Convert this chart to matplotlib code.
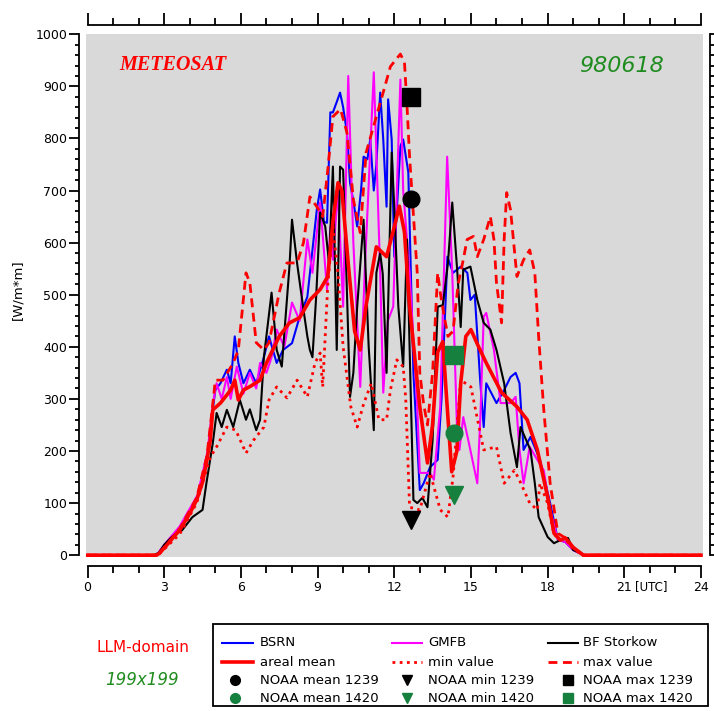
import matplotlib
matplotlib.use("Agg")
import matplotlib.pyplot as plt
from matplotlib.ticker import MultipleLocator
from matplotlib.patches import Rectangle

# ---------------------------------------------------------------- data
# global radiation [W/m*m], 18 June 1998, time in hours UTC
bsrn_t = [0, 2.7, 3.0, 3.6, 4.3, 4.7, 4.9, 5.0, 5.2, 5.45, 5.6, 5.76, 5.9, 6.1, 6.35,
          6.6, 6.9, 7.1, 7.4, 7.65, 8.0, 8.3, 8.6, 8.8, 8.97, 9.1, 9.25, 9.37, 9.5,
          9.6, 9.75, 9.88, 10.0, 10.15, 10.27, 10.4, 10.55, 10.7, 10.8, 10.95, 11.06,
          11.2, 11.3, 11.45, 11.57, 11.7, 11.76, 11.9, 12.0, 12.24, 12.35, 12.55,
          12.75, 13.0, 13.15, 13.4, 13.7, 13.85, 14.0, 14.08, 14.3, 14.6, 14.86,
          14.98, 15.15, 15.37, 15.5, 15.6, 16.0, 16.3, 16.55, 16.75, 16.9, 17.06,
          17.33, 17.7, 18.1, 18.4, 18.7, 19.0, 19.4, 24]
bsrn_v = [0, 0, 18, 50, 110, 190, 280, 317, 330, 356, 330, 420, 369, 330, 356,
          330, 380, 420, 369, 394, 407, 458, 496, 586, 663, 702, 640, 638, 850,
          850, 870, 888, 860, 811, 715, 680, 631, 700, 765, 760, 798,
          700, 750, 888, 798, 669, 875, 798, 573, 785, 798, 735,
          350, 125, 138, 169, 183, 300, 477, 573, 542, 554, 542,
          490, 500, 330, 246, 330, 292, 317, 342, 350, 330, 202,
          227, 183, 100, 30, 25, 10, 0, 0]

gmfb_t = [0, 2.7, 3.0, 3.6, 4.3, 4.7, 4.9, 5.05, 5.25, 5.45, 5.6, 5.84, 6.1, 6.35,
          6.6, 6.75, 7.0, 7.2, 7.4, 7.7, 8.0, 8.3, 8.6, 8.8, 9.1, 9.37, 9.5, 9.6,
          9.8, 10.0, 10.2, 10.4, 10.67, 10.85, 11.2, 11.45, 11.57, 11.75, 11.96,
          12.24, 12.35, 12.6, 12.9, 13.0, 13.4, 13.55, 13.8, 14.07, 14.27, 14.47,
          14.55, 14.7, 14.9, 15.25, 15.37, 15.5, 15.6, 15.9, 16.16, 16.55, 16.75,
          16.9, 17.06, 17.3, 17.6, 17.85, 18.1, 18.4, 18.7, 19.0, 19.4, 24]
gmfb_v = [0, 0, 20, 55, 115, 200, 290, 330, 300, 342, 300, 362, 310, 350,
          320, 369, 350, 380, 433, 400, 485, 450, 606, 542, 677, 510, 631, 567,
          700, 477, 920, 600, 323, 550, 927, 542, 312, 450, 477,
          913, 700, 542, 285, 158, 158, 145, 285, 765, 542, 221,
          202, 265, 220, 138, 265, 458, 465, 394, 292, 292, 304,
          202, 138, 208, 183, 163, 87, 30, 25, 10, 0, 0]

bfs_t = [0, 2.6, 2.8, 3.0, 3.3, 3.5, 3.7, 4.1, 4.5, 4.65, 4.9, 5.05, 5.25, 5.45, 5.7,
         5.96, 6.2, 6.35, 6.6, 6.75, 6.9, 7.2, 7.4, 7.6, 7.9, 8.0, 8.2, 8.45, 8.6,
         8.7, 8.8, 8.95, 9.1, 9.3, 9.45, 9.6, 9.75, 9.88, 10.0, 10.15, 10.27, 10.4,
         10.55, 10.8, 11.0, 11.2, 11.3, 11.45, 11.55, 11.7, 11.9, 12.0, 12.16,
         12.35, 12.5, 12.6, 12.75, 12.9, 13.1, 13.3, 13.5, 13.7, 13.9, 14.1,
         14.27, 14.47, 14.6, 14.7, 14.98, 15.25, 15.5, 15.76, 16.0, 16.3, 16.55,
         16.8, 16.94, 17.33, 17.5, 17.65, 18.0, 18.25, 18.5, 18.8, 19.0, 19.3,
         19.4, 24]
bfs_v = [0, 0, 5, 20, 35, 42, 48, 73, 87, 138, 215, 273, 246, 279, 246,
         298, 260, 280, 240, 260, 380, 504, 394, 362, 554, 644, 560, 471, 420,
         394, 380, 500, 658, 631, 560, 746, 394, 746, 740, 504, 304, 350,
         477, 644, 400, 240, 542, 580, 540, 350, 773, 669, 477,
         362, 606, 400, 106, 100, 110, 92, 221, 477, 480, 560,
         677, 542, 438, 548, 554, 490, 446, 433, 394, 330, 235,
         169, 246, 202, 138, 73, 35, 23, 29, 33, 10, 4,
         0, 0]

mean_t = [0, 2.7, 2.82, 3.2, 3.6, 4.0, 4.27, 4.5, 4.67, 4.8, 4.9, 5.2, 5.6, 5.76,
          5.9, 6.1, 6.4, 6.75, 7.0, 7.5, 7.9, 8.3, 8.7, 9.1, 9.4, 9.6, 9.8, 9.95,
          10.2, 10.45, 10.67, 10.9, 11.3, 11.7, 12.0, 12.2, 12.4, 12.6, 13.0,
          13.3, 13.5, 13.7, 13.9, 14.05, 14.25, 14.45, 14.6, 14.8, 15.0, 15.3,
          15.6, 16.2, 16.8, 17.2, 17.6, 18.0, 18.25, 18.5, 18.7, 19.0, 19.4, 24]
mean_v = [0, 0, 4, 25, 48, 80, 106, 140, 183, 220, 279, 292, 317, 336,
          298, 317, 325, 336, 369, 420, 446, 456, 490, 510, 535, 640, 715, 700,
          560, 430, 394, 480, 592, 573, 630, 670, 620, 477, 285,
          177, 250, 390, 410, 300, 160, 200, 330, 420, 433, 400,
          369, 312, 285, 260, 202, 112, 42, 29, 33, 15, 0, 0]

min_t = [0, 2.7, 2.82, 3.6, 4.27, 4.8, 5.05, 5.45, 5.8, 6.2, 6.5, 6.9, 7.1, 7.4,
         7.8, 8.2, 8.6, 8.9, 9.1, 9.2, 9.4, 9.6, 9.8, 10.0, 10.3, 10.55, 10.8,
         11.1, 11.4, 11.7, 11.85, 12.1, 12.35, 12.45, 12.6, 13.0, 13.4, 13.8,
         14.1, 14.3, 14.6, 15.0, 15.5, 16.0, 16.3, 16.7, 16.9, 17.3, 17.6, 17.7,
         18.0, 18.25, 18.5, 18.7, 19.0, 19.4, 24]
min_v = [0, 0, 3, 40, 100, 188, 208, 246, 240, 196, 221, 246, 298, 323,
         302, 336, 304, 369, 388, 323, 520, 630, 540, 400, 285, 246, 290,
         330, 260, 260, 317, 375, 362, 300, 92, 87, 158, 87,
         73, 150, 336, 323, 202, 208, 138, 163, 144, 100, 87, 138,
         100, 40, 29, 30, 12, 0, 0]

max_t = [0, 2.7, 2.82, 3.6, 4.27, 4.67, 4.9, 5.0, 5.3, 5.7, 5.9, 6.2, 6.35, 6.6,
         6.9, 7.1, 7.5, 7.8, 8.2, 8.45, 8.7, 8.97, 9.2, 9.4, 9.6, 9.9, 10.15,
         10.4, 10.67, 10.9, 11.3, 11.6, 11.85, 12.24, 12.4, 12.5, 12.6, 12.9,
         13.0, 13.15, 13.3, 13.5, 13.7, 13.8, 13.95, 14.1, 14.3, 14.5, 14.7,
         14.85, 15.1, 15.25, 15.5, 15.76, 15.9, 16.0, 16.2, 16.3, 16.4, 16.55,
         16.7, 16.8, 17.06, 17.3, 17.5, 17.65, 17.85, 18.1, 18.4, 18.7, 19.0,
         19.4, 24]
max_v = [0, 0, 4, 50, 110, 190, 290, 336, 336, 369, 394, 542, 523, 408,
         394, 408, 504, 561, 561, 600, 688, 669, 650, 740, 842, 856, 811,
         683, 619, 773, 842, 894, 938, 962, 946, 862, 765, 542,
         350, 290, 250, 350, 542, 504, 460, 420, 430, 520, 567,
         606, 612, 573, 606, 650, 606, 523, 446, 606, 696, 663,
         586, 535, 567, 586, 542, 419, 279, 138, 42, 33, 15,
         0, 0]

# NOAA overpasses: time [h UTC] and mean / min / max over the domain
noaa_labels = ["1239", "1420"]
noaa_time = [12.65, 14.33]
noaa_mean = [683, 235]
noaa_min = [67, 115]
noaa_max = [879, 385]

x_ticks = [0, 3, 6, 9, 12, 15, 18, 21, 24]

# ---------------------------------------------------------------- styles
GREEN = "#16803f"
TXT_GREEN = "#1f8c1f"
st_bsrn = dict(color="#0000ff", lw=1.5, ls="-")
st_gmfb = dict(color="#ff00ff", lw=1.5, ls="-")
st_bfs = dict(color="black", lw=1.5, ls="-")
st_mean = dict(color="#ff0000", lw=2.6, ls="-")
st_min = dict(color="#ff0000", lw=2.0, ls=(0, (1, 1.6)))
st_max = dict(color="#ff0000", lw=2.0, ls=(0, (3.2, 2.0)))
noaa_colors = ["black", GREEN]

plt.rcParams["font.family"] = "DejaVu Sans"

fig = plt.figure(figsize=(7.14, 7.11), dpi=100)
ax = fig.add_axes([86 / 714, 1 - 557 / 711, 617 / 714, 523 / 711])
ax.set_facecolor("#d9d9d9")

ax.plot(bsrn_t, bsrn_v, zorder=3, **st_bsrn)
ax.plot(gmfb_t, gmfb_v, zorder=3, **st_gmfb)
ax.plot(bfs_t, bfs_v, zorder=3, **st_bfs)
ax.plot(min_t, min_v, zorder=4, **st_min)
ax.plot(max_t, max_v, zorder=4, **st_max)
ax.plot(mean_t, mean_v, zorder=5, **st_mean)

for t, mn, lo, hi, c in zip(noaa_time, noaa_mean, noaa_min, noaa_max, noaa_colors):
    ax.plot([t], [hi], marker="s", ms=12.5, color=c, mec=c, ls="none", zorder=6)
    ax.plot([t], [mn], marker="o", ms=12, color=c, mec=c, ls="none", zorder=6)
    ax.plot([t], [lo], marker="v", ms=13, color=c, mec=c, ls="none", zorder=6)

ax.set_xlim(-0.06, 24.08)
ax.set_ylim(-3.5, 1000.5)

for s in ax.spines.values():
    s.set_linewidth(1.3)
ax.spines["left"].set_position(("outward", 5))
ax.spines["right"].set_position(("outward", 5))
ax.spines["top"].set_position(("outward", 6.5))
ax.spines["bottom"].set_position(("outward", 6.5))
ax.spines["left"].set_bounds(0, 1000)
ax.spines["right"].set_bounds(0, 1000)
ax.spines["top"].set_bounds(0, 24)
ax.spines["bottom"].set_bounds(0, 24)

ax.set_xticks(x_ticks)
ax.set_xticklabels([str(v) for v in x_ticks])
ax.xaxis.set_minor_locator(MultipleLocator(1))
ax.set_yticks(range(0, 1001, 100))
ax.yaxis.set_minor_locator(MultipleLocator(20))
ax.tick_params(axis="x", which="both", direction="out", top=True, bottom=True,
               labeltop=False, width=1.3, labelsize=9, pad=2)
ax.tick_params(axis="x", which="major", length=8.5)
ax.tick_params(axis="x", which="minor", length=5)
ax.tick_params(axis="y", which="both", direction="out", left=True, right=True,
               labelright=False, width=1.3, labelsize=9, pad=1.5)
ax.tick_params(axis="y", which="major", length=7)
ax.tick_params(axis="y", which="minor", length=3)

# ---------------------------------------------------------------- annotations (pixel frame)
lay = fig.add_axes([0, 0, 1, 1])
lay.set_xlim(0, 714)
lay.set_ylim(711, 0)
lay.axis("off")
lay.patch.set_visible(False)

lay.text(635, 587, "[UTC]", fontsize=8.5, ha="left", va="center")
lay.text(173, 65, "METEOSAT", color="red", fontsize=14.5, family="Liberation Serif",
         style="italic", weight="bold", ha="center", va="center")
lay.text(621, 66, "980618", color=TXT_GREEN, fontsize=16, style="italic",
         ha="center", va="center")
lay.text(18, 290, "[W/m*m]", rotation=90, fontsize=9.5, ha="center", va="center")
lay.text(143, 648, "LLM-domain", color="red", fontsize=11, ha="center", va="center")
lay.text(142, 680, "199x199", color=TXT_GREEN, fontsize=12, style="italic",
         ha="center", va="center")

# legend block
lay.add_patch(Rectangle((213, 624), 495, 82, fill=False, lw=1.3, ec="black"))
rows = [643, 662, 680, 698]
line_cols = [(222, 253, 260), (392, 422, 428), (548, 578, 583)]
line_items = [[("BSRN", st_bsrn), ("GMFB", st_gmfb), ("BF Storkow", st_bfs)],
              [("areal mean", st_mean), ("min value", st_min), ("max value", st_max)]]
for r, items in enumerate(line_items):
    for (x0, x1, xt), (lab, st) in zip(line_cols, items):
        lay.plot([x0, x1], [rows[r], rows[r]], **st)
        lay.text(xt, rows[r], lab, fontsize=9.5, ha="left", va="center")

mark_cols = [(235, 260), (407, 428), (568, 583)]
kinds = [("o", "NOAA mean"), ("v", "NOAA min"), ("s", "NOAA max")]
for i, (lab, c) in enumerate(zip(noaa_labels, noaa_colors)):
    y = rows[2 + i]
    for (xm, xt), (mk, name) in zip(mark_cols, kinds):
        lay.plot([xm], [y], marker=mk, ms=7, color=c, mec=c, ls="none")
        lay.text(xt, y, f"{name} {lab}", fontsize=9.5, ha="left", va="center")

fig.savefig("out.png", dpi=100)
